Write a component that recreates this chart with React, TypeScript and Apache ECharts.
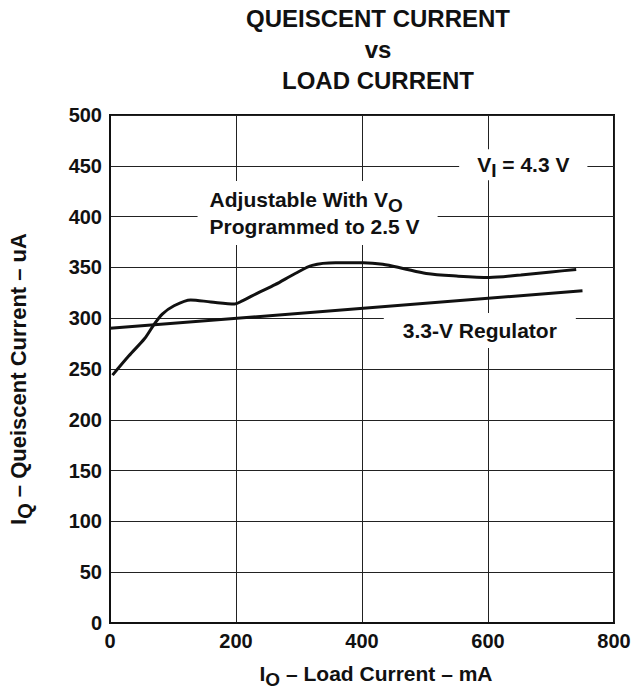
import React, { useEffect, useRef } from "react";
import * as echarts from "echarts";

const xTickValues = [0, 200, 400, 600, 800];
const yTickValues = [0, 50, 100, 150, 200, 250, 300, 350, 400, 450, 500];

const adjustableX = [4, 30, 55, 69, 83, 101, 128, 160, 198, 210, 235, 262, 294, 321, 358, 402, 433, 465, 502, 550, 602, 652, 700, 740];
const adjustableY = [244, 263, 280, 293, 304, 312, 318, 316, 314, 317, 325, 333, 344, 352, 354.5, 354.5, 353, 349, 344, 341.5, 340, 342.5, 345.5, 348];

const regulatorX = [0, 750];
const regulatorY = [290, 327];

const titleLines = ["QUEISCENT CURRENT", "vs", "LOAD CURRENT"];

const FONT = "Liberation Sans, Arial, Helvetica, sans-serif";

export default function App() {
  const ref = useRef<HTMLDivElement>(null);
  useEffect(() => {
    if (!ref.current) return;
    const chart = echarts.init(ref.current, null, { renderer: "svg" });
    const axisRich = (size: number) => ({
      m: { fontFamily: FONT, fontWeight: "bold", fontSize: size, color: "#111", lineHeight: 27 },
      s: { fontFamily: FONT, fontWeight: "bold", fontSize: size - 2, color: "#111", lineHeight: 15, padding: [12, 0, 0, 0] },
    });
    chart.setOption({
      animation: false,
      backgroundColor: "#fff",
      textStyle: { fontFamily: FONT },
      title: {
        text: titleLines.join("\n"),
        left: 378,
        textAlign: "center",
        top: 3,
        padding: 0,
        textStyle: { fontFamily: FONT, fontWeight: "bold", fontSize: 24, lineHeight: 31, color: "#111" },
      },
      grid: {
        left: 110,
        right: 18,
        top: 115,
        bottom: 69,
        show: true,
        borderColor: "#111",
        borderWidth: 2,
        backgroundColor: "transparent",
        containLabel: false,
        outerBoundsMode: "none",
      },
      xAxis: {
        type: "value",
        min: 0,
        max: 800,
        interval: 200,
        axisLine: { show: true, lineStyle: { color: "#111", width: 2 } },
        axisTick: { show: false },
        splitLine: { show: true, lineStyle: { color: "#222", width: 1 } },
        axisLabel: {
          color: "#111",
          fontFamily: FONT,
          fontWeight: "bold",
          fontSize: 20,
          margin: 8,
          hideOverlap: false,
          formatter: (v: number) => (xTickValues.includes(v) ? String(v) : ""),
        },
        name: "{m|I}{s|O}{m| – Load Current – mA}",
        nameLocation: "middle",
        nameGap: 37,
        nameTextStyle: { rich: axisRich(21), padding: [0, 0, 0, 28] },
      },
      yAxis: {
        type: "value",
        min: 0,
        max: 500,
        interval: 50,
        axisLine: { show: true, lineStyle: { color: "#111", width: 2 } },
        axisTick: { show: false },
        splitLine: { show: true, lineStyle: { color: "#222", width: 1 } },
        axisLabel: {
          color: "#111",
          fontFamily: FONT,
          fontWeight: "bold",
          fontSize: 20,
          margin: 8,
          formatter: (v: number) => (yTickValues.includes(v) ? String(v) : ""),
        },
        name: "{m|I}{s|Q}{m| – Queiscent Current – uA}",
        nameLocation: "middle",
        nameRotate: 90,
        nameGap: 78,
        nameTextStyle: { rich: axisRich(22), padding: [0, 20, 0, 0] },
      },
      series: [
        {
          type: "line",
          name: "Adjustable",
          data: adjustableX.map((x, i) => [x, adjustableY[i]]),
          smooth: 0.3,
          showSymbol: false,
          lineStyle: { color: "#111", width: 3 },
          z: 3,
        },
        {
          type: "line",
          name: "3.3-V Regulator",
          data: regulatorX.map((x, i) => [x, regulatorY[i]]),
          showSymbol: false,
          lineStyle: { color: "#111", width: 3 },
          z: 3,
        },
      ],
    });

    const px = (x: number, y: number) => chart.convertToPixel({ gridIndex: 0 }, [x, y]) as number[];
    const p1 = px(656, 451);
    const p2 = px(139, 403.5);
    const p3 = px(587, 288);
    const labelRich = {
      m: { fontFamily: FONT, fontWeight: "bold", fontSize: 21, fill: "#111", lineHeight: 27 },
      s: { fontFamily: FONT, fontWeight: "bold", fontSize: 19, fill: "#111", lineHeight: 15, padding: [12, 0, 0, 0] },
    };
    chart.setOption({
      graphic: {
        elements: [
          {
            type: "text",
            x: p1[0],
            y: p1[1],
            z: 50,
            style: {
              text: "{m|V}{s|I}{m| = 4.3 V}",
              rich: labelRich,
              align: "center",
              verticalAlign: "middle",
              backgroundColor: "#fff",
              padding: [2, 18, 2, 18],
            },
          },
          {
            type: "text",
            x: p2[0],
            y: p2[1],
            z: 50,
            style: {
              text: "{m|Adjustable With V}{s|O}\n{m|Programmed to 2.5 V}",
              rich: labelRich,
              align: "left",
              verticalAlign: "middle",
              backgroundColor: "#fff",
              padding: [5, 18, 5, 12],
            },
          },
          {
            type: "text",
            x: p3[0],
            y: p3[1],
            z: 50,
            style: {
              text: "3.3-V Regulator",
              font: `bold 21px ${FONT}`,
              fill: "#111",
              align: "center",
              verticalAlign: "middle",
              backgroundColor: "#fff",
              padding: [7, 19, 7, 19],
            },
          },
        ],
      },
    });
    return () => chart.dispose();
  }, []);
  return <div ref={ref} style={{ position: "fixed", left: 0, top: 0, width: 632, height: 692 }} />;
}
